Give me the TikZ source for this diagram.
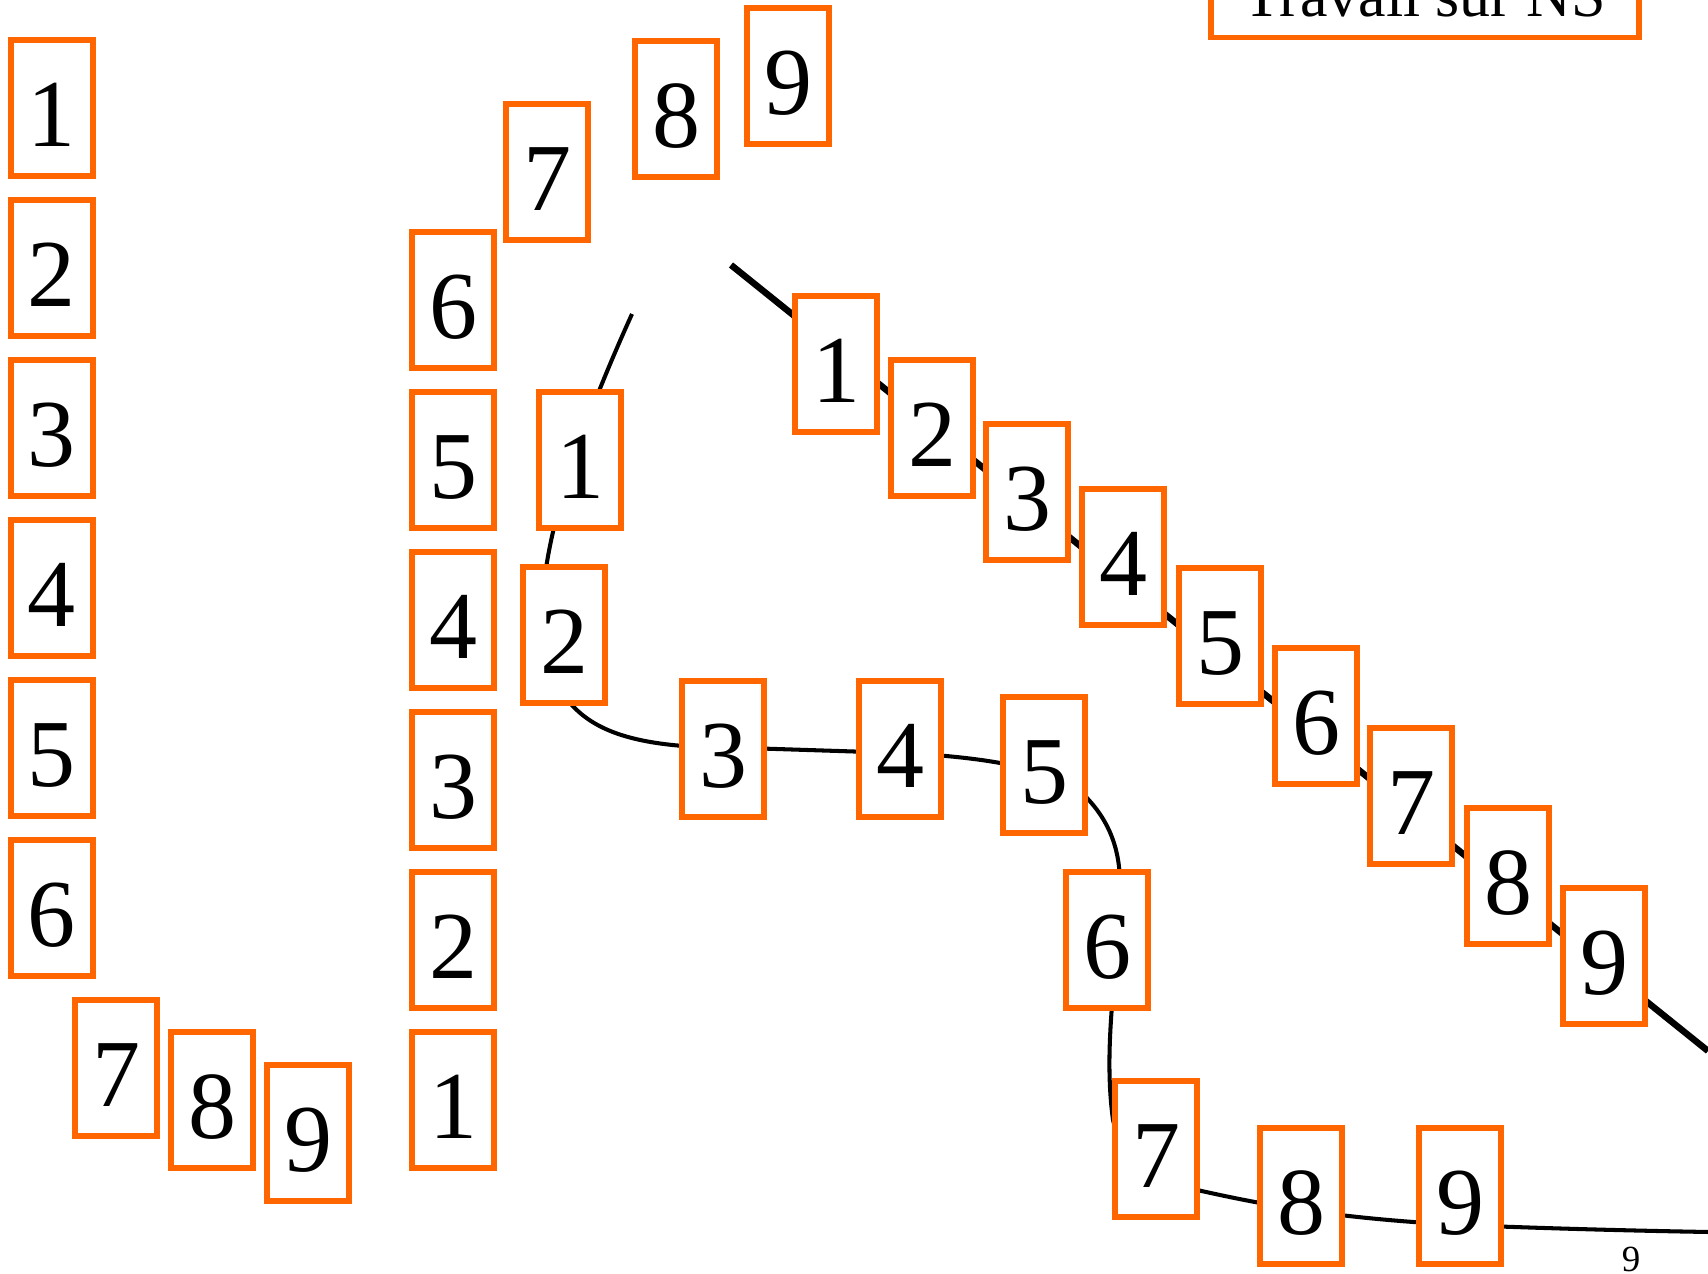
\documentclass[tikz,border=0pt]{standalone}
\usepackage{fontspec}
\setmainfont{Liberation Serif}
\usetikzlibrary{positioning,calc}
\definecolor{tileorange}{HTML}{FF6600}

\begin{document}
\begin{tikzpicture}[x=0.01cm,y=-0.01cm,
  tile/.style={draw=tileorange,line width=1.85pt,fill=white,minimum width=0.815cm,minimum height=1.355cm,inner sep=0pt,text height=0.77cm,text depth=0pt,font=\fontsize{27.3pt}{28pt}\selectfont},
  titlebox/.style={draw=tileorange,line width=1.6pt,fill=white,minimum width=4.28cm,inner xsep=0pt,inner ysep=0.215cm,text depth=0pt,font=\fontsize{17.6pt}{18pt}\selectfont},
  trail/.style={line width=1.15pt},
  thicktrail/.style={line width=1.85pt}]
\useasboundingbox (0,0) rectangle (1708,1274);
\clip (0,0) rectangle (1708,1274);
% paths behind the tiles
\coordinate (t0) at (632,314);
\coordinate (tend) at (1708,1232);
\draw[trail] (t0) .. controls (575,440) and (525,580) .. (548,660)
  .. controls (565,720) and (610,740) .. (683,746) -- (900,753)
  .. controls (990,757) and (1060,770) .. (1086,797)
  .. controls (1110,822) and (1120,850) .. (1120,885)
  .. controls (1120,960) and (1102,1040) .. (1113,1120)
  .. controls (1125,1170) and (1160,1182) .. (1197,1190)
  .. controls (1260,1204) and (1330,1218) .. (1460,1225)
  .. controls (1560,1229) and (1650,1231) .. (tend);
\coordinate (d0) at (731,265);
\coordinate (dend) at (1708,1051);
\draw[thicktrail] (d0) -- (dend);
% first column
\foreach \n/\x/\y in {1/52/108,2/52/268,3/52/428,4/52/588,5/52/748,6/52/908,7/116/1068,8/212/1100,9/308/1133}{\node[tile] (l\n) at (\x,\y) {\n};}
% second column
\foreach \n/\x/\y in {1/453/1100,2/453/940,3/453/780,4/453/620,5/453/460,6/453/300,7/547/172,8/676/109,9/788/76}{\node[tile] (m\n) at (\x,\y) {\n};}
% curved row
\foreach \n/\x/\y in {1/580/460,2/564/635,3/723/749,4/900/749,5/1044/765,6/1107/940,7/1156/1149,8/1301/1196,9/1460/1196}{\node[tile] (c\n) at (\x,\y) {\n};}
% diagonal row
\foreach \n/\x/\y in {1/836/364,2/932/428,3/1027/492,4/1123/557,5/1220/636,6/1316/716,7/1411/796,8/1508/876,9/1604/956}{\node[tile] (d\n) at (\x,\y) {\n};}
\node[titlebox,anchor=south] (title) at (1425,40.5) {Travail sur NS};
\node[font=\fontsize{10.5pt}{11pt}\selectfont] (pagenum) at (1631,1259) {9};
\end{tikzpicture}
\end{document}
